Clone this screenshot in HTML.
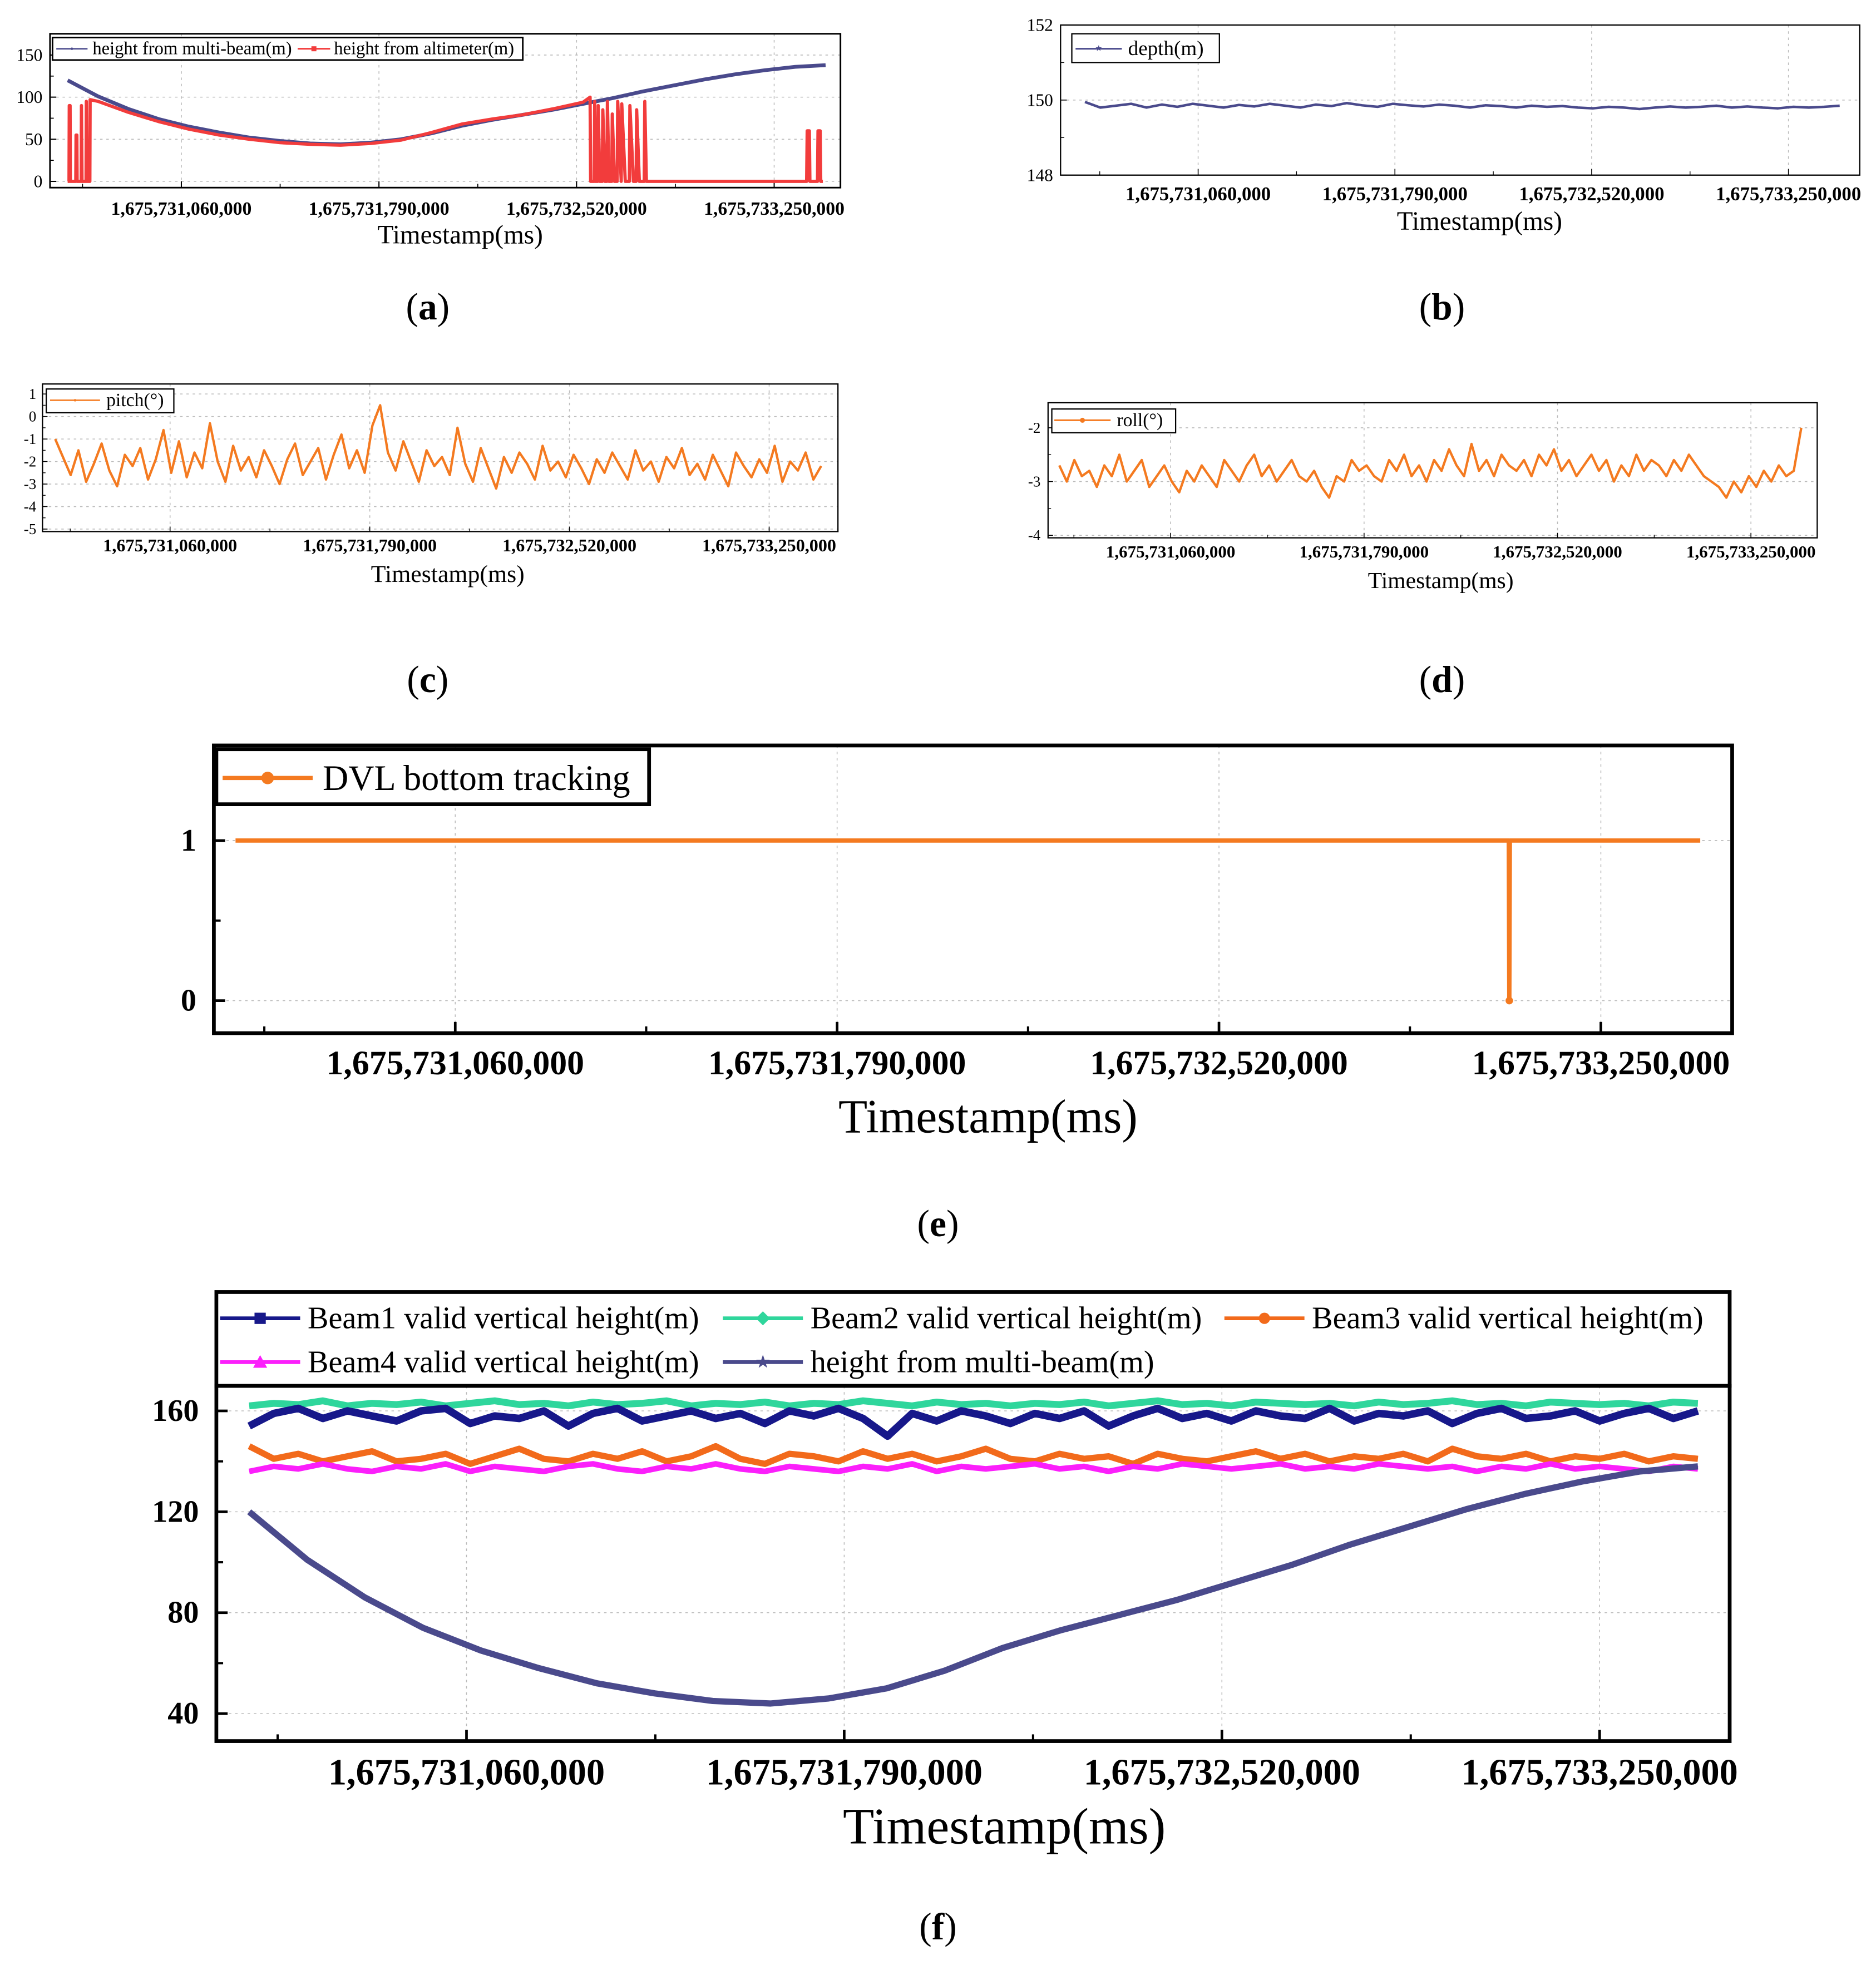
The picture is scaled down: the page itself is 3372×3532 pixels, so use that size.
<!DOCTYPE html>
<html><head><meta charset="utf-8"><style>
html,body{margin:0;padding:0;background:#fff;}
svg{display:block;}
text{font-family:"Liberation Serif",serif;fill:#000;}
</style></head><body>
<svg id="fig" xmlns="http://www.w3.org/2000/svg" width="3372" height="3532" viewBox="0 0 1500 1571" preserveAspectRatio="none"></svg>
<script>
// ---- data ----
const xTickSec = [420, 1150, 1880, 2610];
const xTickLabels = ["1,675,731,060,000","1,675,731,790,000","1,675,732,520,000","1,675,733,250,000"];
const multiBeam = [120,101,86,74,65,58,52,48,45,44,46,50,57,66,73,79,85,92,99,107,114,121,127,132,136,138];
const altSec = [0,5,6,9,10,30,31,34,35,50,51,53,68,69,72,82,83,112,224,336,448,560,672,784,896,1008,1120,1232,1344,1456,1568,1680,1792,1904,1930,1932,1945,1947,1950,1958,1960,1966,1975,1977,1985,1992,1994,2000,2010,2012,2020,2030,2032,2045,2047,2060,2075,2077,2090,2100,2102,2112,2130,2132,2138,2140,2730,2732,2740,2742,2770,2772,2780,2782,2790];
const altVal = [0,0,90,90,0,0,55,55,0,0,90,0,0,95,0,0,97,95,82,71,62,55,50,46,44,43,45,49,58,68,74,79,86,94,100,0,0,95,0,0,90,0,0,85,0,0,95,0,0,80,0,0,95,0,92,0,0,90,0,0,85,0,0,95,0,0,0,60,60,0,0,60,60,0,0];
const depth = [149.95,149.8,149.85,149.9,149.8,149.88,149.82,149.9,149.85,149.8,149.87,149.83,149.9,149.85,149.8,149.88,149.84,149.92,149.86,149.82,149.9,149.86,149.83,149.88,149.85,149.8,149.86,149.84,149.8,149.85,149.82,149.84,149.8,149.78,149.82,149.8,149.76,149.8,149.83,149.8,149.82,149.85,149.8,149.83,149.8,149.78,149.82,149.8,149.82,149.85];
const pitch = [-1.0,-1.8,-2.6,-1.5,-2.9,-2.1,-1.2,-2.4,-3.1,-1.7,-2.2,-1.4,-2.8,-1.9,-0.6,-2.5,-1.1,-2.7,-1.6,-2.3,-0.3,-2.0,-2.9,-1.3,-2.4,-1.8,-2.7,-1.5,-2.2,-3.0,-1.9,-1.2,-2.6,-2.0,-1.4,-2.8,-1.7,-0.8,-2.3,-1.5,-2.5,-0.4,0.5,-1.6,-2.4,-1.1,-2.0,-2.9,-1.5,-2.2,-1.8,-2.6,-0.5,-2.1,-2.9,-1.4,-2.3,-3.2,-1.8,-2.5,-1.6,-2.1,-2.8,-1.3,-2.4,-2.0,-2.7,-1.7,-2.3,-3.0,-1.9,-2.5,-1.6,-2.2,-2.8,-1.5,-2.4,-2.0,-2.9,-1.8,-2.3,-1.4,-2.6,-2.1,-2.8,-1.7,-2.4,-3.1,-1.6,-2.2,-2.7,-1.9,-2.5,-1.3,-2.9,-2.0,-2.4,-1.6,-2.8,-2.2];
const roll = [-2.7,-3.0,-2.6,-2.9,-2.8,-3.1,-2.7,-2.9,-2.5,-3.0,-2.8,-2.6,-3.1,-2.9,-2.7,-3.0,-3.2,-2.8,-3.0,-2.7,-2.9,-3.1,-2.6,-2.8,-3.0,-2.7,-2.5,-2.9,-2.7,-3.0,-2.8,-2.6,-2.9,-3.0,-2.8,-3.1,-3.3,-2.9,-3.0,-2.6,-2.8,-2.7,-2.9,-3.0,-2.6,-2.8,-2.5,-2.9,-2.7,-3.0,-2.6,-2.8,-2.4,-2.7,-2.9,-2.3,-2.8,-2.6,-2.9,-2.5,-2.7,-2.8,-2.6,-2.9,-2.5,-2.7,-2.4,-2.8,-2.6,-2.9,-2.7,-2.5,-2.8,-2.6,-3.0,-2.7,-2.9,-2.5,-2.8,-2.6,-2.7,-2.9,-2.6,-2.8,-2.5,-2.7,-2.9,-3.0,-3.1,-3.3,-3.0,-3.2,-2.9,-3.1,-2.8,-3.0,-2.7,-2.9,-2.8,-2.0];
const dvlSec = [0,2434,2435,2436,2800];
const dvlVal = [1,1,0,1,1];
const beam1 = [154,159,161,157,160,158,156,160,161,155,158,157,160,154,159,161,156,158,160,157,159,155,160,158,161,157,150,159,156,160,158,155,159,157,160,154,158,161,157,159,156,160,158,157,161,156,159,158,160,155,159,161,157,158,160,156,159,161,157,160];
const beam2 = [162,163,162.5,164,162,163,162.5,163.5,162,163,164,162.5,163,162,163.5,162.5,163,164,162,163,162.5,163.5,162,163,162.5,164,163,162,163.5,162.5,163,162,163,162.5,163.5,162,163,164,162.5,163,162,163.5,163,162.5,163,162,163.5,162.5,163,164,162.5,163,162,163.5,163,162.5,163,162,163.5,163];
const beam3 = [146,141,143,140,142,144,140,141,143,139,142,145,141,140,143,141,144,140,142,146,141,139,143,142,140,144,141,143,140,142,145,141,140,143,141,142,139,143,141,140,142,144,141,143,140,142,141,143,140,145,142,141,143,140,142,141,143,140,142,141];
const beam4 = [136,138,137,139,137,136,138,137,139,136,138,137,136,138,139,137,136,138,137,139,137,136,138,137,136,138,137,139,136,138,137,138,139,137,138,136,138,137,139,138,137,138,139,137,138,137,139,138,137,138,136,138,137,139,137,138,137,136,138,137];

// ---- drawing ----
const NS='http://www.w3.org/2000/svg';
const svg=document.getElementById('fig');
function mk(tag,attrs,name,parent){
  const el=document.createElementNS(NS,tag);
  for(const k in attrs) el.setAttribute(k,attrs[k]);
  
  
  (parent||svg).appendChild(el);
  return el;
}
function txt(s,attrs,name,parent){const t=mk('text',attrs,name,parent);t.textContent=s;return t;}
function evenSec(n){const a=[];for(let i=0;i<n;i++)a.push(i*2800/(n-1));return a;}

function panel(p){
  const g=mk('g',{},'panel-'+p.id);
  const xs=s=>p.t0+(s-420)*(p.t3-p.t0)/2190;
  const ys=v=>p.yp[0]+(v-p.yv[0])*(p.yp[1]-p.yp[0])/(p.yv[1]-p.yv[0]);
  xTickSec.forEach((s,i)=>mk('line',{x1:xs(s),x2:xs(s),y1:p.by0,y2:p.by1,stroke:'#bbb','stroke-width':0.7,'stroke-dasharray':'2,3'},'x-grid-line',g));
  p.yTicks.forEach(v=>mk('line',{x1:p.bx0,x2:p.bx1,y1:ys(v),y2:ys(v),stroke:'#bbb','stroke-width':0.7,'stroke-dasharray':'2,3'},'y-grid-line',g));
  const tl=p.tl;
  xTickSec.forEach((s,i)=>{
    mk('line',{x1:xs(s),x2:xs(s),y1:p.by1,y2:p.by1-tl,stroke:'#000','stroke-width':p.bw*0.7},'x-major-tick',g);
    txt(xTickLabels[i],{x:xs(s),y:p.lblY,'font-size':p.fs,'font-weight':'bold','text-anchor':'middle','dominant-baseline':'central'},'x-tick-label',g);
  });
  [55,785,1515,2245].forEach(s=>mk('line',{x1:xs(s),x2:xs(s),y1:p.by1,y2:p.by1-tl*0.6,stroke:'#000','stroke-width':p.bw*0.6},'x-minor-tick',g));
  p.yTicks.forEach((v,i)=>{
    mk('line',{x1:p.bx0,x2:p.bx0+tl,y1:ys(v),y2:ys(v),stroke:'#000','stroke-width':p.bw*0.7},'y-major-tick',g);
    txt(String(v),{x:p.bx0-p.ygap,y:ys(v),'font-size':p.yfs,'font-weight':p.ybold?'bold':'normal','text-anchor':'end','dominant-baseline':'central'},'y-tick-label',g);
    if(i<p.yTicks.length-1){const m=(v+p.yTicks[i+1])/2;mk('line',{x1:p.bx0,x2:p.bx0+tl*0.6,y1:ys(m),y2:ys(m),stroke:'#000','stroke-width':p.bw*0.6},'y-minor-tick',g);}
  });
  txt('Timestamp(ms)',{x:p.titleX,y:p.titleY,'font-size':p.tfs,'text-anchor':'middle','dominant-baseline':'central'},'x-axis-title',g);
  const L=txt('',{x:p.letterX,y:p.letterY,'font-size':30,'text-anchor':'middle','dominant-baseline':'central'},'panel-label',svg);
  L.innerHTML='(<tspan font-weight="bold">'+p.id+'</tspan>)';
  return {g,xs,ys,box:()=>mk('rect',{x:p.bx0,y:p.by0,width:p.bx1-p.bx0,height:p.by1-p.by0,fill:'none',stroke:'#000','stroke-width':p.bw},'plot-frame',g)};
}
function series(P,secs,vals,color,w,name){
  const pts=secs.map((s,i)=>P.xs(s).toFixed(2)+','+P.ys(vals[i]).toFixed(2)).join(' ');
  return mk('polyline',{points:pts,fill:'none',stroke:color,'stroke-width':w,'stroke-linejoin':'round'},name,P.g);
}
function legendBox(g,x,y,w,h,bw){mk('rect',{x,y,width:w,height:h,fill:'#fff',stroke:'#000','stroke-width':bw},'legend-box',g);}
function legItem(g,x1,x2,y,color,marker,label,fs,tx,ms){
  mk('line',{x1,x2,y1:y,y2:y,stroke:color,'stroke-width':Math.max(1.2,ms/3)},'legend-line',g);
  const cx=(x1+x2)/2;
  if(marker==='circle')mk('circle',{cx,cy:y,r:ms/2,fill:color},'legend-marker',g);
  else if(marker==='square')mk('rect',{x:cx-ms/2,y:y-ms/2,width:ms,height:ms,fill:color},'legend-marker',g);
  else if(marker==='diamond')mk('polygon',{points:`${cx},${y-ms/1.6} ${cx+ms/1.6},${y} ${cx},${y+ms/1.6} ${cx-ms/1.6},${y}`,fill:color},'legend-marker',g);
  else if(marker==='tri')mk('polygon',{points:`${cx},${y-ms/1.6} ${cx+ms/1.6},${y+ms/2} ${cx-ms/1.6},${y+ms/2}`,fill:color},'legend-marker',g);
  else if(marker==='star')txt('★',{x:cx,y:y,'font-size':ms*1.6,'text-anchor':'middle','dominant-baseline':'central',style:'fill:'+color},'legend-marker',g);
  txt(label,{x:tx,y:y,'font-size':fs,'dominant-baseline':'central'},'legend-label',g);
}

// (a)
const A=panel({id:'a',bx0:40,bx1:672,by0:27,by1:150,t0:145,t3:619,yv:[0,150],yp:[145,44],yTicks:[0,50,100,150],tl:5,fs:15,lblY:167,yfs:14,ygap:6,titleX:368,titleY:188,tfs:21,bw:1.3,letterX:342,letterY:245});
series(A,evenSec(multiBeam.length),multiBeam,'#4a4a8c',3,'multibeam-height-line');
series(A,altSec,altVal,'#f23c3c',2.6,'altimeter-height-line');
legendBox(A.g,42,30,376,18,1.3);
legItem(A.g,45,70,39,'#4a4a8c','circle','height from multi-beam(m)',14.5,74,2);
legItem(A.g,238,264,39,'#f23c3c','square','height from altimeter(m)',14.5,267,4);
A.box();

// (b)
const B=panel({id:'b',bx0:848,bx1:1487,by0:20,by1:140,t0:958,t3:1430,yv:[148,152],yp:[140,20],yTicks:[148,150,152],tl:5,fs:15.5,lblY:155,yfs:14,ygap:6,titleX:1183,titleY:177,tfs:21,bw:1,letterX:1153,letterY:245});
series(B,evenSec(depth.length),depth,'#4a4a8c',2,'depth-line');
legendBox(B.g,857,27,118,23,1);
legItem(B.g,860,897,39,'#4a4a8c','star','depth(m)',16.5,902,4);
B.box();

// (c)
const C=panel({id:'c',bx0:34,bx1:670,by0:307,by1:425,t0:136,t3:615,yv:[-5,1],yp:[423,315],yTicks:[-5,-4,-3,-2,-1,0,1],tl:4,fs:14.3,lblY:436,yfs:12,ygap:5,titleX:358,titleY:459,tfs:19.5,bw:1,letterX:342,letterY:543});
series(C,evenSec(pitch.length),pitch,'#f47a20',1.9,'pitch-line');
legendBox(C.g,37,311,102,19,1);
legItem(C.g,40,80,320,'#f47a20','circle','pitch(°)',15,85,2);
C.box();

// (d)
const D=panel({id:'d',bx0:838,bx1:1453,by0:322,by1:430,t0:936,t3:1400,yv:[-4,-2],yp:[428,342],yTicks:[-4,-3,-2],tl:4,fs:13.8,lblY:441,yfs:12,ygap:6,titleX:1152,titleY:464,tfs:18.5,bw:1,letterX:1153,letterY:543});
series(D,evenSec(roll.length),roll,'#f47a20',1.9,'roll-line');
legendBox(D.g,841,327,99,19,1);
legItem(D.g,843,888,336,'#f47a20','circle','roll(°)',15,893,4);
D.box();

// (e)
const E=panel({id:'e',bx0:171,bx1:1385,by0:596,by1:826,t0:364,t3:1280,yv:[0,1],yp:[800,672],yTicks:[0,1],tl:9,fs:27.5,lblY:850,yfs:25,ybold:true,ygap:14,titleX:790,titleY:893,tfs:38,bw:3,letterX:750,letterY:978});
series(E,dvlSec,dvlVal,'#f47a20',3.5,'dvl-bottom-tracking-line');
mk('circle',{cx:E.xs(2435),cy:E.ys(0),r:3,fill:'#f47a20'},'dvl-dropout-point',E.g);
legendBox(E.g,173,599,346,44,3);
legItem(E.g,178,250,622,'#f47a20','circle','DVL bottom tracking',28.5,258,10);
E.box();

// (f)
const F=panel({id:'f',bx0:173,bx1:1383,by0:1108,by1:1392,t0:373,t3:1279,yv:[40,160],yp:[1370,1128],yTicks:[40,80,120,160],tl:9,fs:29.5,lblY:1417,yfs:25,ybold:true,ygap:14,titleX:803,titleY:1460,tfs:41,bw:3,letterX:750,letterY:1540});
series(F,evenSec(beam2.length),beam2,'#2fd69c',5.5,'beam2-line');
series(F,evenSec(beam1.length),beam1,'#17188a',6,'beam1-line');
series(F,evenSec(beam3.length),beam3,'#f26a1b',5,'beam3-line');
series(F,evenSec(beam4.length),beam4,'#fb1ffb',4.5,'beam4-line');
series(F,evenSec(multiBeam.length),multiBeam,'#4a4a8c',5,'multibeam-height-line');
legendBox(F.g,173,1033,1210,75,3);
legItem(F.g,176,240,1054,'#17188a','square','Beam1 valid vertical height(m)',25,246,9);
legItem(F.g,578,642,1054,'#2fd69c','diamond','Beam2 valid vertical height(m)',25,648,9);
legItem(F.g,979,1043,1054,'#f26a1b','circle','Beam3 valid vertical height(m)',25,1049,9);
legItem(F.g,176,240,1089,'#fb1ffb','tri','Beam4 valid vertical height(m)',25,246,9);
legItem(F.g,578,642,1089,'#4a4a8c','star','height from multi-beam(m)',25,648,9);
F.box();
</script>
</body></html>
